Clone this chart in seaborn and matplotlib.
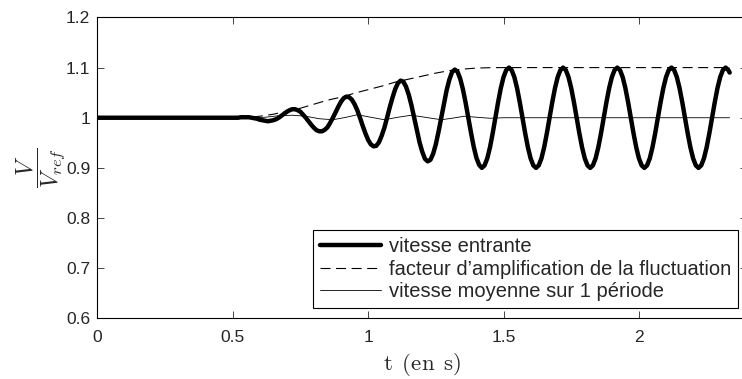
import matplotlib
matplotlib.use("Agg")
import matplotlib.pyplot as plt
import seaborn as sns
from matplotlib.ticker import FormatStrFormatter

# incoming speed V/Vref (one sample every 0.01 s after 0.5 s)
t_in = [0.00,
        0.50, 0.51, 0.52, 0.53, 0.54, 0.55, 0.56, 0.57, 0.58, 0.59,
        0.60, 0.61, 0.62, 0.63, 0.64, 0.65, 0.66, 0.67, 0.68, 0.69,
        0.70, 0.71, 0.72, 0.73, 0.74, 0.75, 0.76, 0.77, 0.78, 0.79,
        0.80, 0.81, 0.82, 0.83, 0.84, 0.85, 0.86, 0.87, 0.88, 0.89,
        0.90, 0.91, 0.92, 0.93, 0.94, 0.95, 0.96, 0.97, 0.98, 0.99,
        1.00, 1.01, 1.02, 1.03, 1.04, 1.05, 1.06, 1.07, 1.08, 1.09,
        1.10, 1.11, 1.12, 1.13, 1.14, 1.15, 1.16, 1.17, 1.18, 1.19,
        1.20, 1.21, 1.22, 1.23, 1.24, 1.25, 1.26, 1.27, 1.28, 1.29,
        1.30, 1.31, 1.32, 1.33, 1.34, 1.35, 1.36, 1.37, 1.38, 1.39,
        1.40, 1.41, 1.42, 1.43, 1.44, 1.45, 1.46, 1.47, 1.48, 1.49,
        1.50, 1.51, 1.52, 1.53, 1.54, 1.55, 1.56, 1.57, 1.58, 1.59,
        1.60, 1.61, 1.62, 1.63, 1.64, 1.65, 1.66, 1.67, 1.68, 1.69,
        1.70, 1.71, 1.72, 1.73, 1.74, 1.75, 1.76, 1.77, 1.78, 1.79,
        1.80, 1.81, 1.82, 1.83, 1.84, 1.85, 1.86, 1.87, 1.88, 1.89,
        1.90, 1.91, 1.92, 1.93, 1.94, 1.95, 1.96, 1.97, 1.98, 1.99,
        2.00, 2.01, 2.02, 2.03, 2.04, 2.05, 2.06, 2.07, 2.08, 2.09,
        2.10, 2.11, 2.12, 2.13, 2.14, 2.15, 2.16, 2.17, 2.18, 2.19,
        2.20, 2.21, 2.22, 2.23, 2.24, 2.25, 2.26, 2.27, 2.28, 2.29,
        2.30, 2.31, 2.32, 2.33, 2.335]
v_in = [1.000,
        1.000, 1.000, 1.000, 1.001, 1.001, 1.001, 1.001, 1.000, 0.999, 0.998,
        0.996, 0.995, 0.994, 0.993, 0.994, 0.995, 0.997, 1.000, 1.004, 1.008,
        1.012, 1.015, 1.017, 1.017, 1.015, 1.012, 1.006, 1.000, 0.993, 0.986,
        0.980, 0.975, 0.973, 0.973, 0.976, 0.981, 0.990, 1.000, 1.011, 1.022,
        1.032, 1.039, 1.042, 1.041, 1.036, 1.027, 1.015, 1.000, 0.984, 0.969,
        0.956, 0.947, 0.943, 0.944, 0.951, 0.964, 0.980, 1.000, 1.021, 1.040,
        1.057, 1.069, 1.074, 1.072, 1.062, 1.046, 1.025, 1.000, 0.975, 0.951,
        0.932, 0.918, 0.913, 0.916, 0.928, 0.947, 0.972, 1.000, 1.029, 1.055,
        1.076, 1.091, 1.096, 1.092, 1.078, 1.057, 1.030, 1.000, 0.970, 0.942,
        0.920, 0.906, 0.900, 0.905, 0.919, 0.941, 0.969, 1.000, 1.031, 1.059,
        1.081, 1.095, 1.100, 1.095, 1.081, 1.059, 1.031, 1.000, 0.969, 0.941,
        0.919, 0.905, 0.900, 0.905, 0.919, 0.941, 0.969, 1.000, 1.031, 1.059,
        1.081, 1.095, 1.100, 1.095, 1.081, 1.059, 1.031, 1.000, 0.969, 0.941,
        0.919, 0.905, 0.900, 0.905, 0.919, 0.941, 0.969, 1.000, 1.031, 1.059,
        1.081, 1.095, 1.100, 1.095, 1.081, 1.059, 1.031, 1.000, 0.969, 0.941,
        0.919, 0.905, 0.900, 0.905, 0.919, 0.941, 0.969, 1.000, 1.031, 1.059,
        1.081, 1.095, 1.100, 1.095, 1.081, 1.059, 1.031, 1.000, 0.969, 0.941,
        0.919, 0.905, 0.900, 0.905, 0.919, 0.941, 0.969, 1.000, 1.031, 1.059,
        1.081, 1.095, 1.100, 1.095, 1.090]

# amplification factor of the fluctuation (envelope)
t_env = [0.00, 0.50, 0.55, 0.60, 0.65, 0.70, 0.75, 0.80, 0.85, 0.90, 0.95,
         1.00, 1.05, 1.10, 1.15, 1.20, 1.25, 1.30, 1.35, 1.40, 1.45, 1.50, 2.335]
v_env = [1.000, 1.000, 1.0005, 1.003, 1.007, 1.013, 1.019, 1.027, 1.035, 1.041, 1.049,
         1.056, 1.063, 1.071, 1.077, 1.083, 1.089, 1.094, 1.097, 1.099, 1.0998, 1.100, 1.100]

# mean speed over one period
t_mean = [0.00, 0.58, 0.62, 0.67, 0.72, 0.77, 0.82, 0.87, 0.92, 0.96, 1.01,
          1.06, 1.11, 1.16, 1.21, 1.27, 1.31, 1.355, 1.40, 1.45, 1.50, 2.335]
v_mean = [1.000, 1.000, 1.001, 1.004, 1.005, 1.003, 0.998, 0.996, 1.001, 1.006, 1.001,
          0.996, 1.001, 1.005, 1.001, 0.996, 0.999, 1.003, 1.001, 0.999, 1.000, 1.000]

labels = ["vitesse entrante",
          "facteur d’amplification de la fluctuation",
          "vitesse moyenne sur 1 période"]

sns.set_style("ticks")
plt.rcParams['font.family'] = ['Liberation Sans', 'DejaVu Sans']
plt.rcParams['mathtext.fontset'] = 'cm'

fig = plt.figure(figsize=(7.42, 3.79), dpi=100)
fig.patch.set_facecolor('white')
ax = fig.add_axes([0.1311, 0.160, 0.876, 0.794])

sns.lineplot(x=t_in, y=v_in, ax=ax, color='k', lw=3.2, sort=False,
             estimator=None, label=labels[0])
sns.lineplot(x=t_env, y=v_env, ax=ax, color='k', lw=0.8, sort=False,
             estimator=None, linestyle=(0, (9, 5)), label=labels[1])
sns.lineplot(x=t_mean, y=v_mean, ax=ax, color='k', lw=0.6, sort=False,
             estimator=None, label=labels[2])

ax.set_xlim(0, 2.4)
ax.set_ylim(0.6, 1.2)
ax.set_xticks([0, 0.5, 1, 1.5, 2])
ax.set_yticks([0.6, 0.7, 0.8, 0.9, 1.0, 1.1, 1.2])
ax.xaxis.set_major_formatter(FormatStrFormatter('%g'))
ax.yaxis.set_major_formatter(FormatStrFormatter('%g'))
ax.tick_params(direction='in', top=True, right=True, length=5, width=0.6,
               labelsize=12.5)
ax.tick_params(axis='x', pad=8.5)
ax.tick_params(axis='y', pad=5)
for sp in ax.spines.values():
    sp.set_visible(True)
    sp.set_color('k')
    sp.set_linewidth(0.8)

ax.set_xlabel(r'$\mathrm{t\ \,(en\ \,s)}$', fontsize=16.5, labelpad=4)
ax.set_ylabel(r'$\dfrac{V}{V_{ref}}$', fontsize=17)
ax.yaxis.set_label_coords(-0.047, 0.5)

leg = ax.legend(loc='lower right', bbox_to_anchor=(0.9857, 0.034), borderaxespad=0,
                frameon=True, fancybox=False, edgecolor='k', framealpha=1,
                handlelength=3.0, handletextpad=0.4, fontsize=14.5,
                labelspacing=0.17, borderpad=0.35)
leg.get_frame().set_linewidth(0.8)

plt.savefig('out.png', dpi=100)
plt.close()
